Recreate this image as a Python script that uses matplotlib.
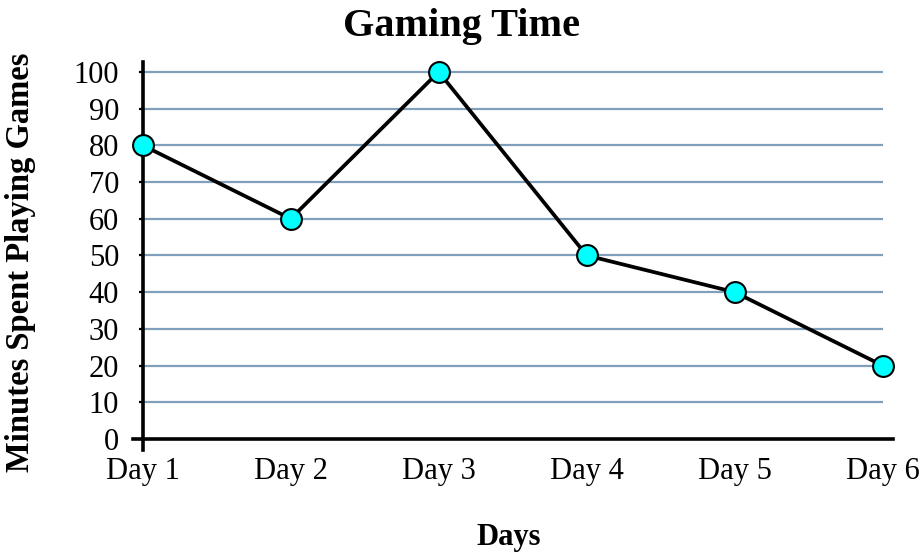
import numpy as np
import matplotlib
matplotlib.use("Agg")
import matplotlib.pyplot as plt

days = ["Day 1", "Day 2", "Day 3", "Day 4", "Day 5", "Day 6"]
minutes = [80, 60, 100, 50, 40, 20]
yticks = [0, 10, 20, 30, 40, 50, 60, 70, 80, 90, 100]

plt.rcParams['font.family'] = ['Liberation Serif', 'DejaVu Serif']

fig = plt.figure(figsize=(9.22, 5.55), dpi=100)
ax = fig.add_axes([0.1443, 0.1892, 0.8243, 0.6991])

x = np.arange(len(days))
ax.set_xlim(-0.065, len(days) - 1 + 0.07)
ax.set_ylim(-3, 102.7)

# horizontal grid only between first and last day
ax.hlines(yticks[1:], 0, len(days) - 1, color="#7f9fbb", lw=1.6, zorder=1)

ax.plot(x, minutes, color="black", lw=2.7, marker="o", ms=15,
        mfc="#00ffff", mec="black", mew=1.5, zorder=3, clip_on=False)

for s in ["top", "right"]:
    ax.spines[s].set_visible(False)
ax.spines["left"].set_position(("data", 0))
ax.spines["bottom"].set_position(("data", 0))
ax.spines["left"].set_linewidth(2.6)
ax.spines["bottom"].set_linewidth(2.6)

ax.set_yticks(yticks)
ax.set_xticks(x)
ax.set_xticklabels(days)
ax.tick_params(axis="y", length=3, width=1.6, pad=14, labelsize=22)
ax.tick_params(axis="x", length=0, pad=13, labelsize=22)

fig.text(0.5, 0.953, "Gaming Time", ha="center", va="center",
         fontsize=29, fontweight="bold")
fig.text(0.552, 0.032, "Days", ha="center", va="center",
         fontsize=22, fontweight="bold")
fig.text(0.022, 0.528, "Minutes Spent Playing Games", ha="center", va="center",
         rotation=90, fontsize=23.5, fontweight="bold")

fig.savefig("out.png", dpi=100)
